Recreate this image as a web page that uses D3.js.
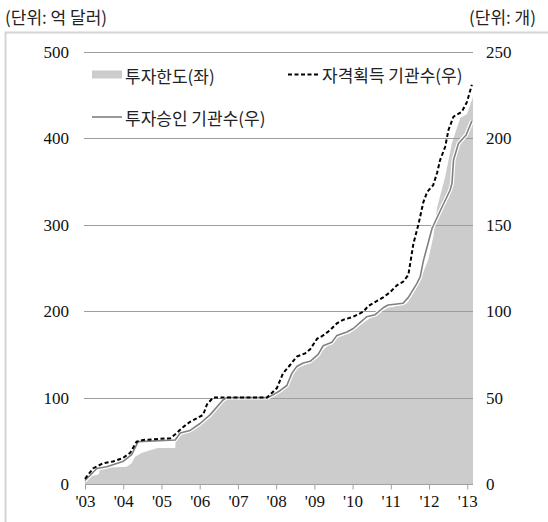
<!DOCTYPE html>
<html>
<head>
<meta charset="utf-8">
<script src="https://cdn.jsdelivr.net/npm/d3@7"></script>
<style>
  html, body { margin: 0; padding: 0; background: #fff; }
  svg { display: block; }
</style>
</head>
<body>
<div id="chart"></div>
<script>
/*****************************************************
 * DATA
 *****************************************************/
// 투자한도 (좌, 억 달러)
const limitYears = [2003.00, 2003.04, 2003.31, 2003.37, 2003.39, 2004.09, 2004.22, 2004.31, 2004.48, 2004.70,
  2004.91, 2005.36, 2005.38, 2005.57, 2005.83, 2006.09, 2006.19, 2006.61, 2006.71, 2006.77,
  2007.79, 2007.84, 2008.18, 2008.28, 2008.41, 2008.54, 2008.76, 2008.89, 2009.10, 2009.15,
  2009.41, 2009.59, 2009.95, 2010.20, 2010.46, 2010.72, 2010.90, 2011.25, 2011.42, 2011.64,
  2011.77, 2011.98, 2012.11, 2012.21, 2012.42, 2012.60, 2012.73, 2012.82, 2012.99, 2013.15];
const limitValues = [3, 8.5, 10.5, 12, 18.5, 20, 24, 31.6, 36, 39,
  41.6, 41.6, 54.7, 59, 64.8, 74, 78, 95, 99.5, 100,
  100, 103, 111, 117, 126, 134, 138, 140, 147, 151.6,
  163, 169, 175, 184, 192, 198, 203.7, 207, 209, 224.5,
  236, 260, 286, 320, 355, 395, 412, 424, 428, 448];

// 투자승인 기관수 (우, 개)
const approvedYears = [2003.00, 2003.31, 2003.57, 2003.99, 2004.22, 2004.39, 2005.36, 2005.49, 2005.75, 2006.01,
  2006.27, 2006.61, 2006.71, 2007.79, 2008.10, 2008.28, 2008.41, 2008.54, 2008.71, 2008.89,
  2009.10, 2009.23, 2009.46, 2009.59, 2009.85, 2010.02, 2010.20, 2010.37, 2010.59, 2010.80,
  2010.93, 2011.32, 2011.46, 2011.68, 2011.77, 2011.85, 2012.08, 2012.29, 2012.55, 2012.60,
  2012.64, 2012.77, 2012.97, 2013.12];
const approvedCounts = [2, 9, 10, 13, 17, 24.5, 25.5, 29.5, 31, 35,
  40, 48.6, 50, 50, 54, 57, 64, 68, 70, 71,
  75, 80, 82, 86, 88, 90, 93.5, 96.8, 98, 102,
  103.6, 104.6, 108, 116, 120, 129, 148, 158, 170, 174,
  187.5, 197, 202, 210];

// 자격획득 기관수 (우, 개)
const qualifiedYears = [2003.00, 2003.21, 2003.47, 2003.73, 2003.99, 2004.18, 2004.35, 2004.52, 2005.23, 2005.40,
  2005.57, 2005.75, 2005.92, 2006.09, 2006.19, 2006.35, 2007.76, 2008.02, 2008.18, 2008.37,
  2008.54, 2008.76, 2008.89, 2009.07, 2009.23, 2009.41, 2009.59, 2009.75, 2010.02, 2010.28,
  2010.41, 2010.64, 2010.80, 2010.98, 2011.16, 2011.32, 2011.46, 2011.59, 2011.72, 2011.85,
  2011.95, 2012.11, 2012.21, 2012.29, 2012.42, 2012.51, 2012.64, 2012.86, 2012.99, 2013.12];
const qualifiedCounts = [3, 9, 12, 13, 15, 18, 24.5, 25.5, 26.5, 29.5,
  33, 36, 38, 40, 46, 50, 50, 55.5, 64, 69,
  73.7, 75.6, 78, 84, 86, 89, 93, 95, 96.8, 99.7,
  103, 106, 108, 111, 115, 117, 121, 139, 150, 163,
  169, 173, 180, 187.5, 195, 205, 212.6, 215.5, 221, 231];

const yearTicks = [2003, 2004, 2005, 2006, 2007, 2008, 2009, 2010, 2011, 2012, 2013];
const yearLabels = ["'03", "'04", "'05", "'06", "'07", "'08", "'09", "'10", "'11", "'12", "'13"];
const leftTicks = [0, 100, 200, 300, 400, 500];
const rightTicks = [0, 50, 100, 150, 200, 250];

const limitData = limitYears.map((y, i) => ({ x: y, v: limitValues[i] }));
const approvedData = approvedYears.map((y, i) => ({ x: y, v: approvedCounts[i] }));
const qualifiedData = qualifiedYears.map((y, i) => ({ x: y, v: qualifiedCounts[i] }));

/*****************************************************
 * SETUP
 *****************************************************/
const width = 548;
const height = 522;
const korFont = "'Noto Sans CJK KR', 'Noto Sans', sans-serif";
const numFont = "'Liberation Serif', 'DejaVu Serif', serif";

const svg = d3.select("#chart")
  .append("svg")
  .attr("width", width)
  .attr("height", height);

// outer frame
svg.append("rect")
  .attr("x", 5.5)
  .attr("y", 32.5)
  .attr("width", width + 10)
  .attr("height", height)
  .attr("fill", "none")
  .attr("stroke", "#d4d4d4")
  .attr("stroke-width", 2);

const x = d3.scaleLinear().domain([2003, 2013.15]).range([85, 473]);
const yL = d3.scaleLinear().domain([0, 500]).range([484, 52]);
const yR = d3.scaleLinear().domain([0, 250]).range([484, 52]);

/*****************************************************
 * AREA
 *****************************************************/
svg.append("path")
  .datum(limitData)
  .attr("fill", "#cccccc")
  .attr("d", d3.area().x(d => x(d.x)).y0(yL(0)).y1(d => yL(d.v)));

/*****************************************************
 * GRID
 *****************************************************/
svg.append("g")
  .selectAll("line")
  .data(leftTicks.filter(d => d > 0))
  .enter()
  .append("line")
  .attr("x1", 84)
  .attr("x2", 473)
  .attr("y1", d => Math.round(yL(d)) + 0.5)
  .attr("y2", d => Math.round(yL(d)) + 0.5)
  .attr("stroke", "#9d9d9d")
  .attr("stroke-width", 1);

/*****************************************************
 * X AXIS
 *****************************************************/
const xAxis = svg.append("g")
  .attr("transform", `translate(0, ${Math.round(yL(0)) + 0.5})`)
  .call(d3.axisBottom(x)
    .tickValues(yearTicks)
    .tickSize(5)
    .tickPadding(5)
    .tickFormat((d, i) => yearLabels[i]));
xAxis.select(".domain")
  .attr("stroke", "#a0a0a0")
  .attr("d", `M${x(2003)},0H${x.range()[1]}`);
xAxis.selectAll(".tick line").attr("stroke", "#a0a0a0");
xAxis.selectAll("text")
  .attr("font-family", numFont)
  .attr("font-size", "17px")
  .attr("fill", "#111");

/*****************************************************
 * Y AXES (labels only)
 *****************************************************/
const leftAxis = svg.append("g")
  .attr("transform", "translate(69, 0)")
  .call(d3.axisLeft(yL).tickValues(leftTicks).tickSize(0).tickPadding(0).tickFormat(d3.format("d")));
leftAxis.select(".domain").remove();
leftAxis.selectAll("text")
  .attr("font-family", numFont)
  .attr("font-size", "17px")
  .attr("fill", "#111");

const rightAxis = svg.append("g")
  .attr("transform", "translate(486, 0)")
  .call(d3.axisRight(yR).tickValues(rightTicks).tickSize(0).tickPadding(0).tickFormat(d3.format("d")));
rightAxis.select(".domain").remove();
rightAxis.selectAll("text")
  .attr("font-family", numFont)
  .attr("font-size", "17px")
  .attr("fill", "#111");

/*****************************************************
 * LINES
 *****************************************************/
const lineR = d3.line().x(d => x(d.x)).y(d => yR(d.v));

// white halo under the approved line
svg.append("path")
  .datum(approvedData)
  .attr("fill", "none")
  .attr("stroke", "#ffffff")
  .attr("stroke-width", 4)
  .attr("stroke-linejoin", "round")
  .attr("d", lineR);

svg.append("path")
  .datum(approvedData)
  .attr("fill", "none")
  .attr("stroke", "#808080")
  .attr("stroke-width", 1.6)
  .attr("stroke-linejoin", "round")
  .attr("d", lineR);

svg.append("path")
  .datum(qualifiedData)
  .attr("fill", "none")
  .attr("stroke", "#000000")
  .attr("stroke-width", 2)
  .attr("stroke-dasharray", "4,2.5")
  .attr("d", lineR);

/*****************************************************
 * LEGEND
 *****************************************************/
const legend = svg.append("g")
  .attr("font-family", korFont)
  .attr("font-size", "17px")
  .attr("fill", "#222");

legend.append("rect")
  .attr("x", 92).attr("y", 70.5)
  .attr("width", 30).attr("height", 8)
  .attr("fill", "#cccccc");
legend.append("text")
  .attr("x", 125).attr("y", 75)
  .attr("dominant-baseline", "central")
  .text("투자한도(좌)");

legend.append("line")
  .attr("x1", 92).attr("x2", 122)
  .attr("y1", 117).attr("y2", 117)
  .attr("stroke", "#808080")
  .attr("stroke-width", 1.6);
legend.append("text")
  .attr("x", 125).attr("y", 117)
  .attr("dominant-baseline", "central")
  .text("투자승인 기관수(우)");

legend.append("line")
  .attr("x1", 288).attr("x2", 320)
  .attr("y1", 74.5).attr("y2", 74.5)
  .attr("stroke", "#000")
  .attr("stroke-width", 2)
  .attr("stroke-dasharray", "4,2.5");
legend.append("text")
  .attr("x", 322).attr("y", 74)
  .attr("dominant-baseline", "central")
  .text("자격획득 기관수(우)");

/*****************************************************
 * UNIT LABELS
 *****************************************************/
svg.append("text")
  .attr("x", 5).attr("y", 16)
  .attr("dominant-baseline", "central")
  .attr("font-family", korFont)
  .attr("font-size", "17px")
  .attr("fill", "#222")
  .text("(단위: 억 달러)");

svg.append("text")
  .attr("x", 536).attr("y", 16)
  .attr("text-anchor", "end")
  .attr("dominant-baseline", "central")
  .attr("font-family", korFont)
  .attr("font-size", "17px")
  .attr("fill", "#222")
  .text("(단위: 개)");
</script>
</body>
</html>
